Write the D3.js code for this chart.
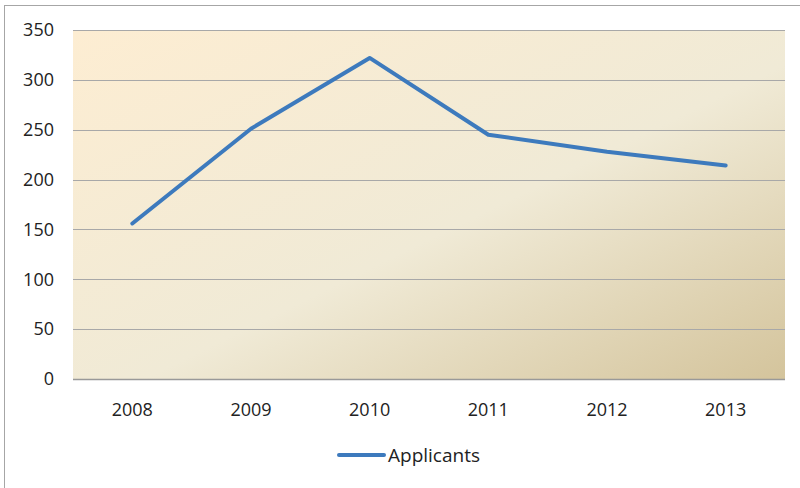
<!DOCTYPE html>
<html>
<head>
<meta charset="utf-8">
<script src="https://cdn.jsdelivr.net/npm/d3@7"></script>
<style>
  body { margin: 0; background: #fff; }
  text { font-family: "Open Sans", "Noto Sans", sans-serif; fill: #222; }
</style>
</head>
<body>
<svg width="800" height="488"></svg>
<script>
var years = ["2008", "2009", "2010", "2011", "2012", "2013"];
var applicants = [156, 251, 322, 245, 228, 214];
var yTicks = [0, 50, 100, 150, 200, 250, 300, 350];
var seriesName = "Applicants";

var svg = d3.select("svg");
var plotLeft = 73, plotRight = 785, plotTop = 30, plotBottom = 379;

// outer chart border
svg.append("rect")
  .attr("x", 4.5).attr("y", 5.5)
  .attr("width", 820).attr("height", 500)
  .attr("fill", "#fff")
  .attr("stroke", "#a6a6a6");

var defs = svg.append("defs");
var grad = defs.append("linearGradient")
  .attr("id", "bg")
  .attr("x1", "0%").attr("y1", "0%")
  .attr("x2", "100%").attr("y2", "100%");
grad.append("stop").attr("offset", "0%").attr("stop-color", "#fdedd2");
grad.append("stop").attr("offset", "55%").attr("stop-color", "#f0ead6");
grad.append("stop").attr("offset", "100%").attr("stop-color", "#d4c49c");

var x = d3.scaleBand().domain(years).range([plotLeft, plotRight]);
var y = d3.scaleLinear().domain([0, 350]).range([plotBottom, plotTop]);

svg.append("rect")
  .attr("x", plotLeft).attr("y", plotTop)
  .attr("width", plotRight - plotLeft).attr("height", plotBottom - plotTop)
  .attr("fill", "url(#bg)");

// gridlines
svg.append("g").selectAll("line")
  .data(yTicks)
  .enter()
  .append("line")
  .attr("x1", plotLeft).attr("x2", plotRight)
  .attr("y1", function(d) { return Math.round(y(d)) + 0.5; })
  .attr("y2", function(d) { return Math.round(y(d)) + 0.5; })
  .attr("stroke", function(d) { return d == 0 ? "#999" : "#a8a8a8"; })
  .attr("stroke-width", function(d) { return d == 0 ? 1.5 : 1; });

// y labels
svg.append("g").selectAll("text")
  .data(yTicks)
  .enter()
  .append("text")
  .attr("x", 54)
  .attr("y", function(d) { return y(d); })
  .attr("dy", "0.35em")
  .attr("text-anchor", "end")
  .attr("font-size", 18)
  .text(function(d) { return d; });

// x labels
svg.append("g").selectAll("text")
  .data(years)
  .enter()
  .append("text")
  .attr("x", function(d) { return x(d) + x.bandwidth() / 2; })
  .attr("y", 416)
  .attr("text-anchor", "middle")
  .attr("font-size", 18)
  .text(function(d) { return d; });

var line = d3.line()
  .x(function(d, i) { return x(years[i]) + x.bandwidth() / 2; })
  .y(function(d) { return y(d); });

svg.append("path")
  .datum(applicants)
  .attr("d", line)
  .attr("fill", "none")
  .attr("stroke", "#3d7abd")
  .attr("stroke-width", 4)
  .attr("stroke-linejoin", "round")
  .attr("stroke-linecap", "round");

// legend
var lg = svg.append("g");
lg.append("line")
  .attr("x1", 339).attr("x2", 384)
  .attr("y1", 455).attr("y2", 455)
  .attr("stroke", "#3d7abd")
  .attr("stroke-width", 4)
  .attr("stroke-linecap", "round");
lg.append("text")
  .attr("x", 388).attr("y", 462)
  .attr("font-size", 19)
  .text(seriesName);
</script>
</body>
</html>
